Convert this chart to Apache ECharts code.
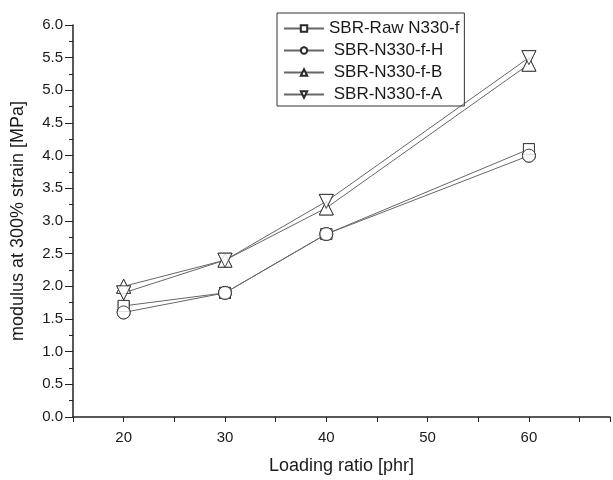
<!DOCTYPE html>
<html>
<head>
<meta charset="utf-8">
<script src="https://cdn.jsdelivr.net/npm/echarts@6/dist/echarts.min.js"></script>
<style>
  html, body { margin: 0; padding: 0; background: #fff; }
  #chart { width: 613px; height: 480px; }
</style>
</head>
<body>
<div id="chart"></div>
<script>
// Loading ratio (phr) on the x axis
const loading = [20, 30, 40, 60];

// modulus at 300% strain [MPa]
const rawN330 = [1.7, 1.9, 2.8, 4.1];
const n330H = [1.6, 1.9, 2.8, 4.0];
const n330B = [2.0, 2.4, 3.2, 5.4];
const n330A = [1.9, 2.4, 3.3, 5.5];

const seriesNames = ["SBR-Raw N330-f", "SBR-N330-f-H", "SBR-N330-f-B", "SBR-N330-f-A"];

const chart = echarts.init(document.getElementById("chart"));

const lineColor = "#666";
const markColor = "#2a2a2a";
const downTriangle = "path://M0,0 L10,0 L5,9 Z";

const markers = [
  { values: rawN330, symbol: "rect", size: 11 },
  { values: n330H, symbol: "circle", size: 13 },
  { values: n330B, symbol: "triangle", size: 14 },
  { values: n330A, symbol: downTriangle, size: 14 },
];

const markStyle = { color: "#fff", borderColor: markColor, borderWidth: 1 };

// lines first (legend takes its icon from these), then markers on top
const lineSeries = markers.map((m, i) => ({
  name: seriesNames[i],
  type: "line",
  data: loading.map((x, j) => [x, m.values[j]]),
  symbol: m.symbol,
  symbolSize: m.size,
  lineStyle: { color: lineColor, width: 1 },
  itemStyle: markStyle,
  z: 2,
}));

const markerSeries = markers.map((m, i) => ({
  name: seriesNames[i],
  type: "scatter",
  data: loading.map((x, j) => [x, m.values[j]]),
  symbol: m.symbol,
  symbolSize: m.size,
  itemStyle: markStyle,
  z: 5,
}));

chart.setOption({
  animation: false,
  textStyle: { fontFamily: "Liberation Sans, Arial, sans-serif" },
  grid: { left: 73, top: 25, right: 1, bottom: 59 },
  legend: {
    orient: "vertical",
    left: 277,
    top: 13,
    padding: [7, 5, 3, 6],
    borderColor: "#333",
    borderWidth: 1,
    itemGap: 5,
    itemWidth: 40,
    itemHeight: 8,
    textStyle: { fontSize: 17, color: "#1a1a1a" },
    formatter: (name) => (name === seriesNames[0] ? name : " " + name),
    data: seriesNames,
  },
  xAxis: {
    type: "value",
    min: 15,
    max: 68,
    interval: 5,
    name: "Loading ratio [phr]",
    nameLocation: "middle",
    nameGap: 40,
    nameTextStyle: { fontSize: 18, color: "#1a1a1a" },
    axisLine: { lineStyle: { color: "#222", width: 1.5 } },
    axisTick: { length: 5, lineStyle: { color: "#222" } },
    axisLabel: {
      fontSize: 15,
      color: "#1a1a1a",
      margin: 13,
      formatter: (v) => (v % 10 === 0 ? String(v) : ""),
    },
    splitLine: { show: false },
  },
  yAxis: {
    type: "value",
    min: 0,
    max: 6,
    interval: 0.5,
    name: "modulus at 300% strain [MPa]",
    nameLocation: "middle",
    nameGap: 46,
    nameTextStyle: { fontSize: 18, color: "#1a1a1a" },
    axisLine: { show: true, lineStyle: { color: "#222", width: 1.5 } },
    axisTick: { show: true, length: 8, lineStyle: { color: "#222" } },
    minorTick: { show: true, splitNumber: 2, length: 4, lineStyle: { color: "#222" } },
    axisLabel: {
      fontSize: 15,
      color: "#1a1a1a",
      margin: 10,
      formatter: (v) => v.toFixed(1),
    },
    splitLine: { show: false },
  },
  series: lineSeries.concat(markerSeries),
});
</script>
</body>
</html>
